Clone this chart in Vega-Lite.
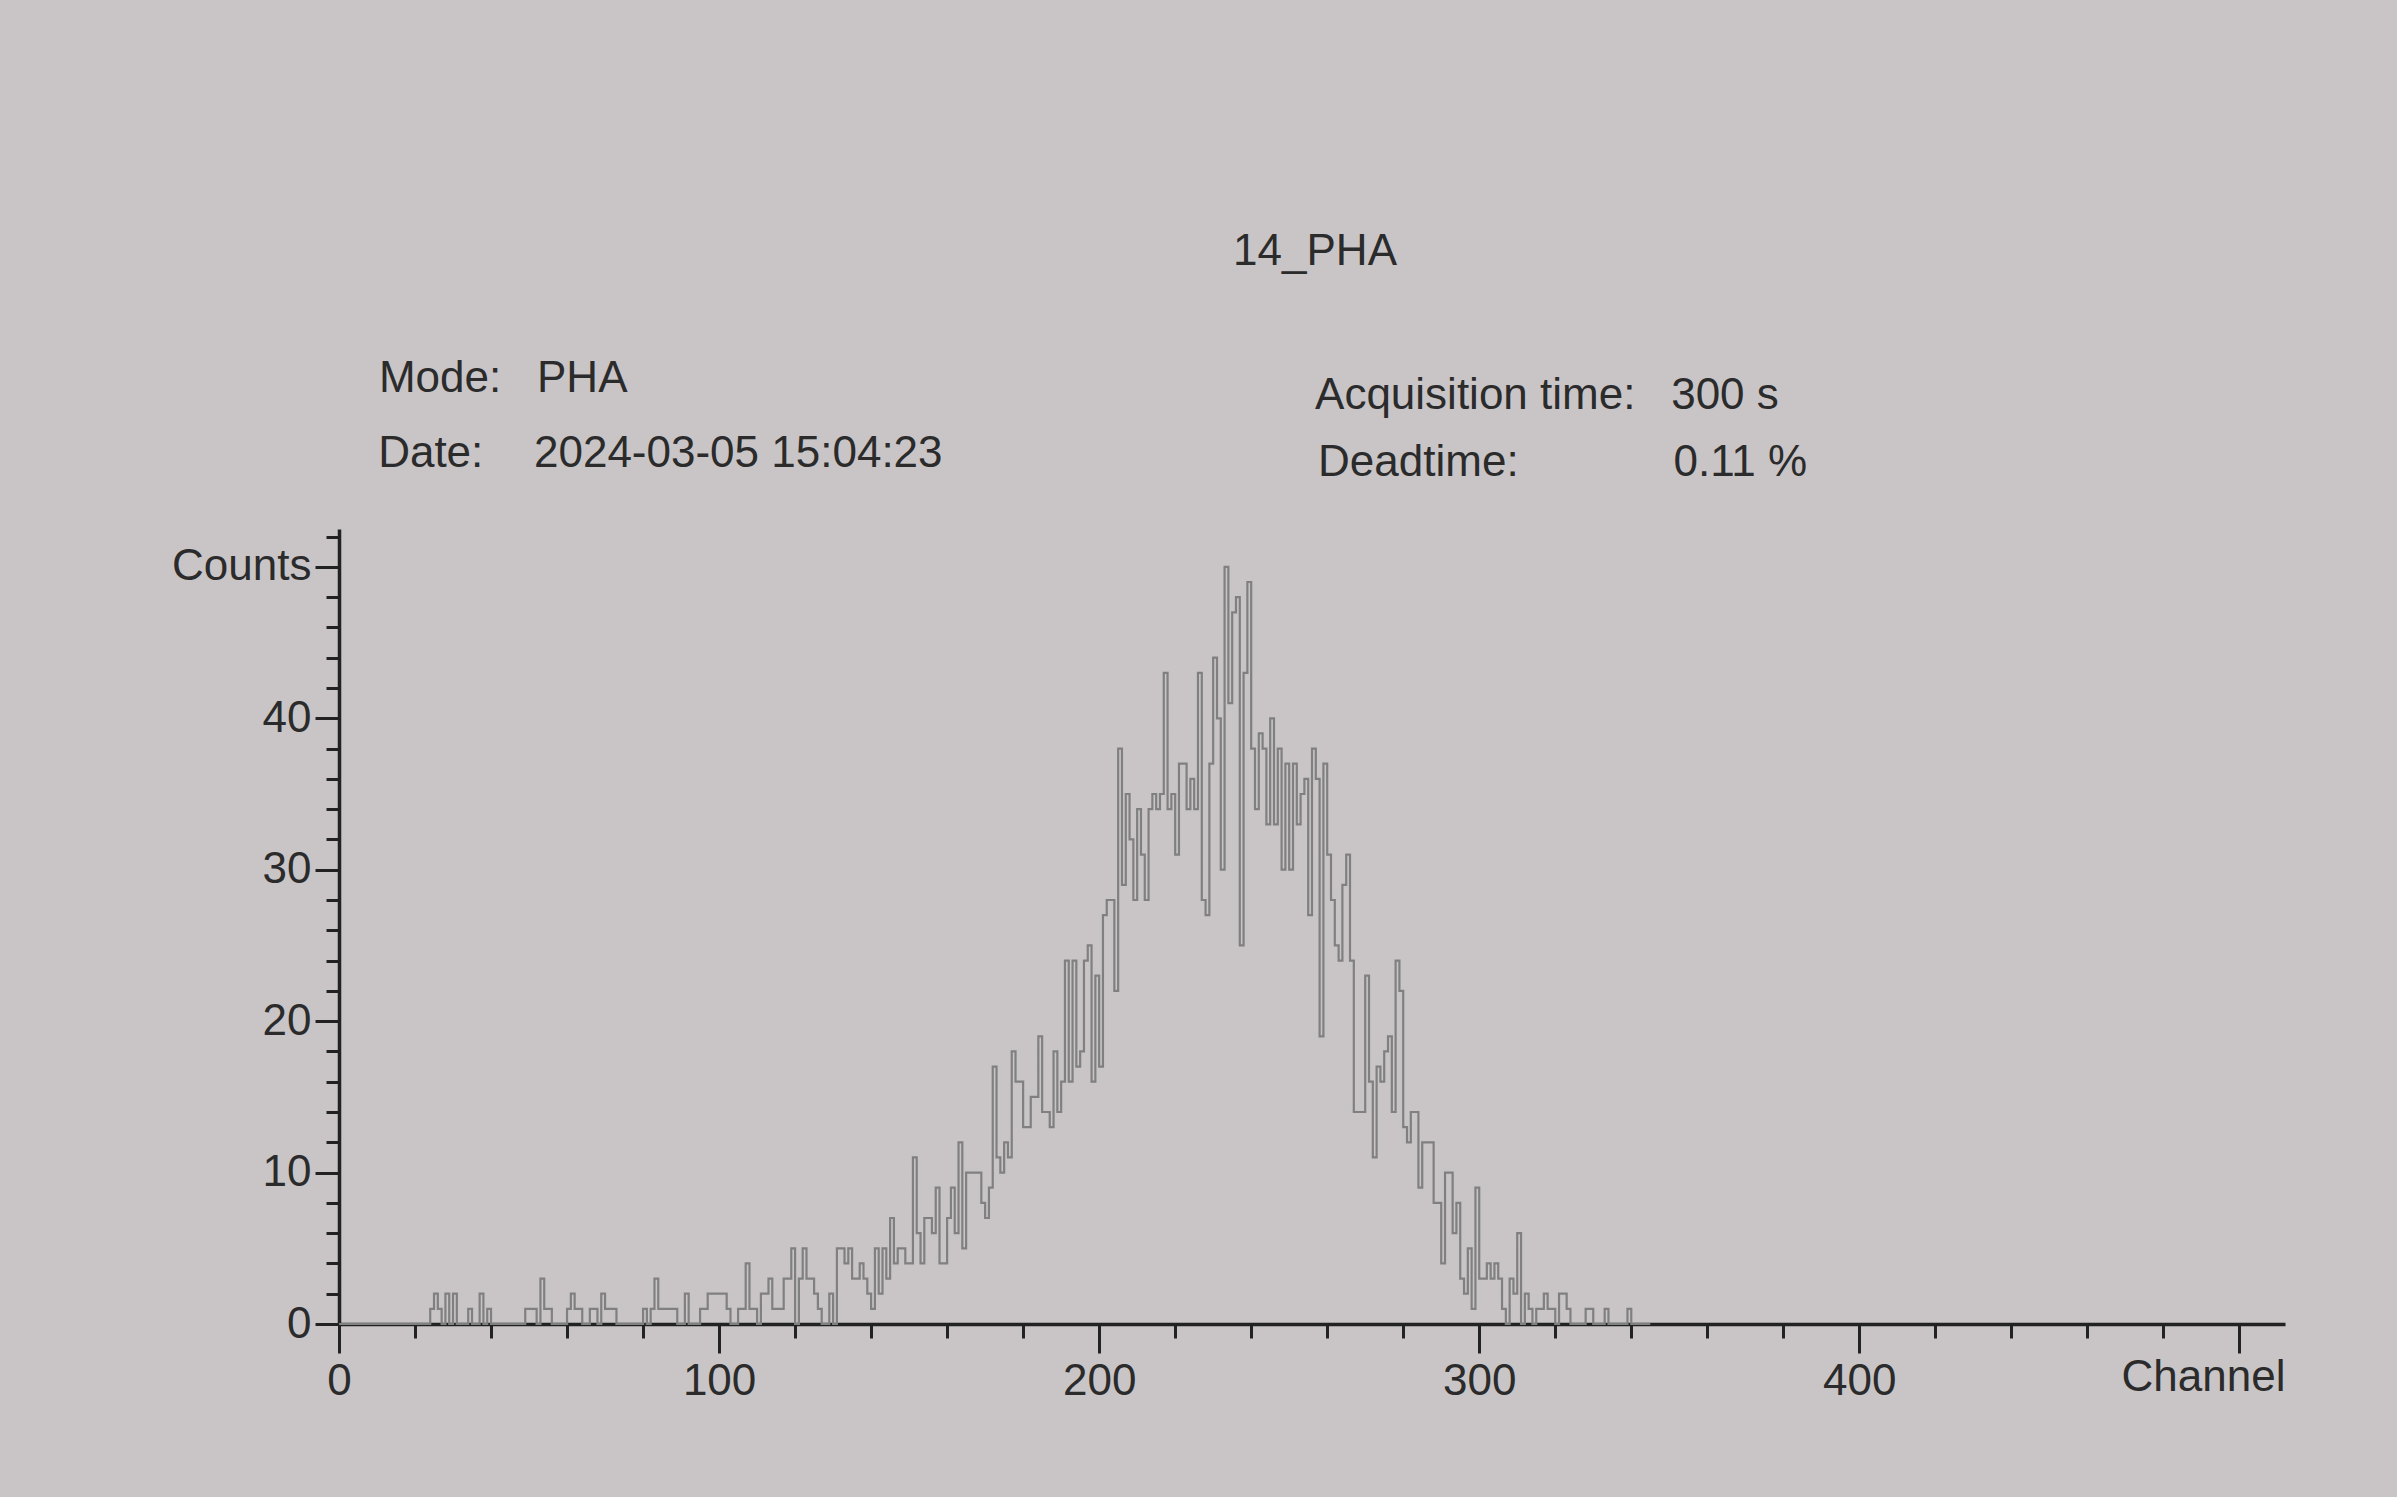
{
  "$schema": "https://vega.github.io/schema/vega-lite/v6.json",
  "width": 1946,
  "height": 795,
  "autosize": {"type": "none"},
  "padding": {"left": 339, "top": 529, "right": 112, "bottom": 173},
  "background": "#c9c5c7",
  "config": {"view": {"stroke": null}, "font": "Liberation Sans"},
  "layer": [
    {
      "data": {"values": [
        {"channel":0,"counts":0},{"channel":1,"counts":0},{"channel":2,"counts":0},{"channel":3,"counts":0},{"channel":4,"counts":0},
        {"channel":5,"counts":0},{"channel":6,"counts":0},{"channel":7,"counts":0},{"channel":8,"counts":0},{"channel":9,"counts":0},
        {"channel":10,"counts":0},{"channel":11,"counts":0},{"channel":12,"counts":0},{"channel":13,"counts":0},{"channel":14,"counts":0},
        {"channel":15,"counts":0},{"channel":16,"counts":0},{"channel":17,"counts":0},{"channel":18,"counts":0},{"channel":19,"counts":0},
        {"channel":20,"counts":0},{"channel":21,"counts":0},{"channel":22,"counts":0},{"channel":23,"counts":0},{"channel":24,"counts":1},
        {"channel":25,"counts":2},{"channel":26,"counts":1},{"channel":27,"counts":0},{"channel":28,"counts":2},{"channel":29,"counts":0},
        {"channel":30,"counts":2},{"channel":31,"counts":0},{"channel":32,"counts":0},{"channel":33,"counts":0},{"channel":34,"counts":1},
        {"channel":35,"counts":0},{"channel":36,"counts":0},{"channel":37,"counts":2},{"channel":38,"counts":0},{"channel":39,"counts":1},
        {"channel":40,"counts":0},{"channel":41,"counts":0},{"channel":42,"counts":0},{"channel":43,"counts":0},{"channel":44,"counts":0},
        {"channel":45,"counts":0},{"channel":46,"counts":0},{"channel":47,"counts":0},{"channel":48,"counts":0},{"channel":49,"counts":1},
        {"channel":50,"counts":1},{"channel":51,"counts":1},{"channel":52,"counts":0},{"channel":53,"counts":3},{"channel":54,"counts":1},
        {"channel":55,"counts":1},{"channel":56,"counts":0},{"channel":57,"counts":0},{"channel":58,"counts":0},{"channel":59,"counts":0},
        {"channel":60,"counts":1},{"channel":61,"counts":2},{"channel":62,"counts":1},{"channel":63,"counts":1},{"channel":64,"counts":0},
        {"channel":65,"counts":0},{"channel":66,"counts":1},{"channel":67,"counts":1},{"channel":68,"counts":0},{"channel":69,"counts":2},
        {"channel":70,"counts":1},{"channel":71,"counts":1},{"channel":72,"counts":1},{"channel":73,"counts":0},{"channel":74,"counts":0},
        {"channel":75,"counts":0},{"channel":76,"counts":0},{"channel":77,"counts":0},{"channel":78,"counts":0},{"channel":79,"counts":0},
        {"channel":80,"counts":1},{"channel":81,"counts":0},{"channel":82,"counts":1},{"channel":83,"counts":3},{"channel":84,"counts":1},
        {"channel":85,"counts":1},{"channel":86,"counts":1},{"channel":87,"counts":1},{"channel":88,"counts":1},{"channel":89,"counts":0},
        {"channel":90,"counts":0},{"channel":91,"counts":2},{"channel":92,"counts":0},{"channel":93,"counts":0},{"channel":94,"counts":0},
        {"channel":95,"counts":1},{"channel":96,"counts":1},{"channel":97,"counts":2},{"channel":98,"counts":2},{"channel":99,"counts":2},
        {"channel":100,"counts":2},{"channel":101,"counts":2},{"channel":102,"counts":1},{"channel":103,"counts":0},{"channel":104,"counts":0},
        {"channel":105,"counts":1},{"channel":106,"counts":1},{"channel":107,"counts":4},{"channel":108,"counts":1},{"channel":109,"counts":1},
        {"channel":110,"counts":0},{"channel":111,"counts":2},{"channel":112,"counts":2},{"channel":113,"counts":3},{"channel":114,"counts":1},
        {"channel":115,"counts":1},{"channel":116,"counts":1},{"channel":117,"counts":3},{"channel":118,"counts":3},{"channel":119,"counts":5},
        {"channel":120,"counts":0},{"channel":121,"counts":3},{"channel":122,"counts":5},{"channel":123,"counts":3},{"channel":124,"counts":3},
        {"channel":125,"counts":2},{"channel":126,"counts":1},{"channel":127,"counts":0},{"channel":128,"counts":0},{"channel":129,"counts":2},
        {"channel":130,"counts":0},{"channel":131,"counts":5},{"channel":132,"counts":5},{"channel":133,"counts":4},{"channel":134,"counts":5},
        {"channel":135,"counts":3},{"channel":136,"counts":3},{"channel":137,"counts":4},{"channel":138,"counts":3},{"channel":139,"counts":2},
        {"channel":140,"counts":1},{"channel":141,"counts":5},{"channel":142,"counts":2},{"channel":143,"counts":5},{"channel":144,"counts":3},
        {"channel":145,"counts":7},{"channel":146,"counts":4},{"channel":147,"counts":5},{"channel":148,"counts":5},{"channel":149,"counts":4},
        {"channel":150,"counts":4},{"channel":151,"counts":11},{"channel":152,"counts":6},{"channel":153,"counts":4},{"channel":154,"counts":7},
        {"channel":155,"counts":7},{"channel":156,"counts":6},{"channel":157,"counts":9},{"channel":158,"counts":4},{"channel":159,"counts":4},
        {"channel":160,"counts":7},{"channel":161,"counts":9},{"channel":162,"counts":6},{"channel":163,"counts":12},{"channel":164,"counts":5},
        {"channel":165,"counts":10},{"channel":166,"counts":10},{"channel":167,"counts":10},{"channel":168,"counts":10},{"channel":169,"counts":8},
        {"channel":170,"counts":7},{"channel":171,"counts":9},{"channel":172,"counts":17},{"channel":173,"counts":11},{"channel":174,"counts":10},
        {"channel":175,"counts":12},{"channel":176,"counts":11},{"channel":177,"counts":18},{"channel":178,"counts":16},{"channel":179,"counts":16},
        {"channel":180,"counts":13},{"channel":181,"counts":13},{"channel":182,"counts":15},{"channel":183,"counts":15},{"channel":184,"counts":19},
        {"channel":185,"counts":14},{"channel":186,"counts":14},{"channel":187,"counts":13},{"channel":188,"counts":18},{"channel":189,"counts":14},
        {"channel":190,"counts":16},{"channel":191,"counts":24},{"channel":192,"counts":16},{"channel":193,"counts":24},{"channel":194,"counts":17},
        {"channel":195,"counts":18},{"channel":196,"counts":24},{"channel":197,"counts":25},{"channel":198,"counts":16},{"channel":199,"counts":23},
        {"channel":200,"counts":17},{"channel":201,"counts":27},{"channel":202,"counts":28},{"channel":203,"counts":28},{"channel":204,"counts":22},
        {"channel":205,"counts":38},{"channel":206,"counts":29},{"channel":207,"counts":35},{"channel":208,"counts":32},{"channel":209,"counts":28},
        {"channel":210,"counts":34},{"channel":211,"counts":31},{"channel":212,"counts":28},{"channel":213,"counts":34},{"channel":214,"counts":35},
        {"channel":215,"counts":34},{"channel":216,"counts":35},{"channel":217,"counts":43},{"channel":218,"counts":34},{"channel":219,"counts":35},
        {"channel":220,"counts":31},{"channel":221,"counts":37},{"channel":222,"counts":37},{"channel":223,"counts":34},{"channel":224,"counts":36},
        {"channel":225,"counts":34},{"channel":226,"counts":43},{"channel":227,"counts":28},{"channel":228,"counts":27},{"channel":229,"counts":37},
        {"channel":230,"counts":44},{"channel":231,"counts":40},{"channel":232,"counts":30},{"channel":233,"counts":50},{"channel":234,"counts":41},
        {"channel":235,"counts":47},{"channel":236,"counts":48},{"channel":237,"counts":25},{"channel":238,"counts":43},{"channel":239,"counts":49},
        {"channel":240,"counts":38},{"channel":241,"counts":34},{"channel":242,"counts":39},{"channel":243,"counts":38},{"channel":244,"counts":33},
        {"channel":245,"counts":40},{"channel":246,"counts":33},{"channel":247,"counts":38},{"channel":248,"counts":30},{"channel":249,"counts":37},
        {"channel":250,"counts":30},{"channel":251,"counts":37},{"channel":252,"counts":33},{"channel":253,"counts":35},{"channel":254,"counts":36},
        {"channel":255,"counts":27},{"channel":256,"counts":38},{"channel":257,"counts":36},{"channel":258,"counts":19},{"channel":259,"counts":37},
        {"channel":260,"counts":31},{"channel":261,"counts":28},{"channel":262,"counts":25},{"channel":263,"counts":24},{"channel":264,"counts":29},
        {"channel":265,"counts":31},{"channel":266,"counts":24},{"channel":267,"counts":14},{"channel":268,"counts":14},{"channel":269,"counts":14},
        {"channel":270,"counts":23},{"channel":271,"counts":16},{"channel":272,"counts":11},{"channel":273,"counts":17},{"channel":274,"counts":16},
        {"channel":275,"counts":18},{"channel":276,"counts":19},{"channel":277,"counts":14},{"channel":278,"counts":24},{"channel":279,"counts":22},
        {"channel":280,"counts":13},{"channel":281,"counts":12},{"channel":282,"counts":14},{"channel":283,"counts":14},{"channel":284,"counts":9},
        {"channel":285,"counts":12},{"channel":286,"counts":12},{"channel":287,"counts":12},{"channel":288,"counts":8},{"channel":289,"counts":8},
        {"channel":290,"counts":4},{"channel":291,"counts":10},{"channel":292,"counts":10},{"channel":293,"counts":6},{"channel":294,"counts":8},
        {"channel":295,"counts":3},{"channel":296,"counts":2},{"channel":297,"counts":5},{"channel":298,"counts":1},{"channel":299,"counts":9},
        {"channel":300,"counts":3},{"channel":301,"counts":3},{"channel":302,"counts":4},{"channel":303,"counts":3},{"channel":304,"counts":4},
        {"channel":305,"counts":3},{"channel":306,"counts":1},{"channel":307,"counts":0},{"channel":308,"counts":3},{"channel":309,"counts":2},
        {"channel":310,"counts":6},{"channel":311,"counts":0},{"channel":312,"counts":2},{"channel":313,"counts":1},{"channel":314,"counts":0},
        {"channel":315,"counts":1},{"channel":316,"counts":1},{"channel":317,"counts":2},{"channel":318,"counts":1},{"channel":319,"counts":1},
        {"channel":320,"counts":0},{"channel":321,"counts":2},{"channel":322,"counts":2},{"channel":323,"counts":1},{"channel":324,"counts":0},
        {"channel":325,"counts":0},{"channel":326,"counts":0},{"channel":327,"counts":0},{"channel":328,"counts":1},{"channel":329,"counts":1},
        {"channel":330,"counts":0},{"channel":331,"counts":0},{"channel":332,"counts":0},{"channel":333,"counts":1},{"channel":334,"counts":0},
        {"channel":335,"counts":0},{"channel":336,"counts":0},{"channel":337,"counts":0},{"channel":338,"counts":0},{"channel":339,"counts":1},
        {"channel":340,"counts":0},{"channel":341,"counts":0},{"channel":342,"counts":0},{"channel":343,"counts":0},{"channel":344,"counts":0},
        {"channel":345,"counts":0}
      ]},
      "mark": {"type": "line", "interpolate": "step-after", "color": "#808080", "strokeWidth": 2.2},
      "encoding": {
        "x": {
          "field": "channel",
          "type": "quantitative",
          "scale": {"domain": [0, 512], "nice": false, "zero": false},
          "axis": {
            "values": [0,20,40,60,80,100,120,140,160,180,200,220,240,260,280,300,320,340,360,380,400,420,440,460,480,500],
            "tickCount": 100,
            "format": "d",
            "labelExpr": "datum.value % 100 === 0 && datum.value < 500 ? datum.label : ''",
            "tickSize": {"condition": {"test": "datum.value % 100 === 0", "value": 29}, "value": 14},
            "labelFontSize": {"condition": {"test": "datum.value % 100 === 0 && datum.value < 500", "value": 44}, "value": 1},
            "tickWidth": 3,
            "tickColor": "#222222",
            "domainColor": "#222222",
            "domainWidth": 3.5,
            "labelColor": "#2b2b2b",
            "labelPadding": 6,
            "labelFlush": false,
            "labelOverlap": false,
            "grid": false,
            "title": "Channel",
            "titleAnchor": "end",
            "titleAlign": "right",
            "titleBaseline": "top",
            "titleFontSize": 44,
            "titleFontWeight": "normal",
            "titleColor": "#2b2b2b",
            "titlePadding": -48
          }
        },
        "y": {
          "field": "counts",
          "type": "quantitative",
          "scale": {"domain": [0, 52.5], "nice": false},
          "axis": {
            "values": [0,2,4,6,8,10,12,14,16,18,20,22,24,26,28,30,32,34,36,38,40,42,44,46,48,50,52],
            "tickCount": 100,
            "format": "d",
            "labelExpr": "datum.value === 50 ? 'Counts' : (datum.value % 10 === 0 ? datum.label : '')",
            "tickSize": {"condition": {"test": "datum.value % 10 === 0", "value": 24}, "value": 13},
            "labelFontSize": {"condition": {"test": "datum.value % 10 === 0", "value": 44}, "value": 1},
            "tickWidth": 3,
            "tickColor": "#222222",
            "domainColor": "#222222",
            "domainWidth": 3.5,
            "labelColor": "#2b2b2b",
            "labelPadding": 4,
            "labelFlush": false,
            "labelOverlap": false,
            "grid": false,
            "title": null
          }
        }
      }
    },
    {
      "data": {"values": [{}]},
      "mark": {"type": "text", "text": "14_PHA", "align": "center", "baseline": "middle", "fontSize": 44, "color": "#2b2b2b"},
      "encoding": {"x": {"datum": 256.8}, "y": {"datum": 70.8}}
    },
    {
      "data": {"values": [{}]},
      "mark": {"type": "text", "text": "Mode:", "align": "left", "baseline": "middle", "fontSize": 44, "color": "#2b2b2b"},
      "encoding": {"x": {"datum": 10.5}, "y": {"datum": 62.4}}
    },
    {
      "data": {"values": [{}]},
      "mark": {"type": "text", "text": "PHA", "align": "left", "baseline": "middle", "fontSize": 44, "color": "#2b2b2b"},
      "encoding": {"x": {"datum": 52.1}, "y": {"datum": 62.4}}
    },
    {
      "data": {"values": [{}]},
      "mark": {"type": "text", "text": "Date:", "align": "left", "baseline": "middle", "fontSize": 44, "color": "#2b2b2b"},
      "encoding": {"x": {"datum": 10.3}, "y": {"datum": 57.46}}
    },
    {
      "data": {"values": [{}]},
      "mark": {"type": "text", "text": "2024-03-05 15:04:23", "align": "left", "baseline": "middle", "fontSize": 44, "color": "#2b2b2b"},
      "encoding": {"x": {"datum": 51.3}, "y": {"datum": 57.46}}
    },
    {
      "data": {"values": [{}]},
      "mark": {"type": "text", "text": "Acquisition time:", "align": "left", "baseline": "middle", "fontSize": 44, "color": "#2b2b2b"},
      "encoding": {"x": {"datum": 256.8}, "y": {"datum": 61.3}}
    },
    {
      "data": {"values": [{}]},
      "mark": {"type": "text", "text": "300 s", "align": "left", "baseline": "middle", "fontSize": 44, "color": "#2b2b2b"},
      "encoding": {"x": {"datum": 350.5}, "y": {"datum": 61.3}}
    },
    {
      "data": {"values": [{}]},
      "mark": {"type": "text", "text": "Deadtime:", "align": "left", "baseline": "middle", "fontSize": 44, "color": "#2b2b2b"},
      "encoding": {"x": {"datum": 257.6}, "y": {"datum": 56.87}}
    },
    {
      "data": {"values": [{}]},
      "mark": {"type": "text", "text": "0.11 %", "align": "left", "baseline": "middle", "fontSize": 44, "color": "#2b2b2b"},
      "encoding": {"x": {"datum": 351.1}, "y": {"datum": 56.87}}
    }
  ]
}
